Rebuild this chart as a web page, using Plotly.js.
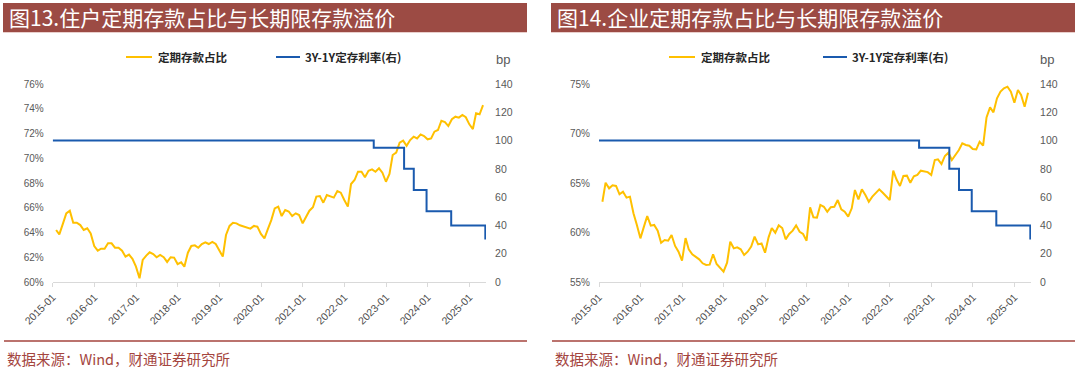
<!DOCTYPE html>
<html>
<head>
<meta charset="utf-8">
<script src="https://cdn.plot.ly/plotly-3.0.1.min.js"></script>
<style>
  html, body { margin: 0; padding: 0; background: #ffffff; }
  #chart { width: 1080px; height: 370px; }
</style>
</head>
<body>
<div id="chart"></div>
<script>
// ---------------- DATA ----------------
const startYear = 2015;            // monthly series start: 2015-01 (month-end observations)
const yearTickLabels = ['2015-01','2016-01','2017-01','2018-01','2019-01','2020-01','2021-01','2022-01','2023-01','2024-01','2025-01'];

// 住户定期存款占比 (%)
const householdTermShare = [
  64.20, 63.85, 64.70, 65.55, 65.76, 64.79, 64.79, 64.60, 64.20, 64.34, 63.93, 62.90,
  62.53, 62.69, 62.69, 63.13, 63.13, 62.77, 62.77, 62.53, 62.05, 62.21, 61.88, 61.24,
  60.30, 61.78, 62.13, 62.40, 62.26, 62.00, 62.18, 62.00, 61.62, 62.00, 61.97, 61.45,
  61.59, 61.24, 62.37, 62.91, 62.96, 62.77, 63.07, 63.21, 63.07, 63.24, 63.07, 62.59,
  62.05, 63.80, 64.53, 64.79, 64.74, 64.58, 64.47, 64.40, 64.31, 64.53, 64.47, 63.88,
  63.53, 64.25, 65.00, 65.95, 66.09, 65.33, 65.82, 65.70, 65.33, 65.55, 65.41, 64.74,
  65.33, 65.76, 66.04, 66.90, 66.95, 66.41, 67.03, 66.95, 66.82, 67.35, 67.22, 66.63,
  66.09, 67.92, 68.24, 68.91, 68.91, 68.46, 68.99, 69.10, 68.91, 69.19, 68.83, 68.10,
  68.73, 70.26, 70.45, 71.26, 71.42, 71.00, 71.47, 71.74, 71.60, 71.93, 71.80, 71.53,
  71.60, 72.15, 72.28, 73.03, 72.93, 72.60, 73.15, 73.36, 73.28, 73.50, 73.31, 72.74,
  72.36, 73.63, 73.55, 74.30
];

// 企业定期存款占比 (%)
const enterpriseTermShare = [
  63.11, 65.03, 64.46, 64.77, 64.70, 63.86, 64.12, 63.52, 63.62, 61.94, 60.76, 59.41,
  60.59, 61.67, 60.69, 60.76, 60.19, 58.97, 59.24, 59.17, 59.75, 58.64, 58.06, 57.15,
  59.44, 58.30, 57.80, 57.56, 57.29, 56.89, 56.72, 56.75, 57.80, 56.82, 56.38, 56.04,
  56.95, 59.07, 58.40, 58.50, 58.30, 57.73, 58.06, 58.57, 59.58, 58.80, 58.90, 57.96,
  59.51, 60.45, 59.98, 60.72, 60.45, 59.31, 59.85, 60.19, 60.72, 60.08, 59.85, 59.17,
  62.54, 61.53, 61.50, 62.78, 62.60, 62.10, 62.56, 62.60, 63.28, 62.34, 62.10, 61.60,
  62.44, 64.29, 63.35, 64.36, 63.79, 63.11, 63.62, 63.96, 64.36, 64.02, 63.62, 63.28,
  66.24, 65.37, 64.70, 65.71, 65.74, 65.03, 65.67, 65.81, 66.24, 66.14, 66.10, 65.81,
  67.32, 67.39, 66.92, 67.73, 68.06, 67.32, 67.83, 68.33, 69.01, 68.84, 68.77, 68.43,
  68.40, 69.17, 68.77, 71.63, 72.64, 72.14, 73.56, 74.23, 74.56, 74.73, 74.23, 73.11,
  74.39, 73.89, 72.71, 74.12
];

// 3Y-1Y定存利率 (bp), step changes
const spreadDates = ['2015-01-01','2022-09-15','2023-06-08','2023-09-01','2023-12-22','2024-07-25','2025-05-20'];
const spreadBp    = [100, 95, 80, 65, 50, 40, 30];

// ---------------- HELPERS ----------------
function monthEndDates(n) {
  const out = [];
  for (let i = 0; i < n; i++) {
    const d = new Date(Date.UTC(startYear, i + 1, 0));
    out.push(d.toISOString().slice(0, 10));
  }
  return out;
}
const yearTickVals = yearTickLabels.map(s => s + '-01');

const W = 1080, H = 370;
const px = x => x / W;
const py = y => 1 - y / H;

const YELLOW = '#FFC000';
const BLUE = '#1A5AAE';
const TICKC = '#595959';
const AXC = '#D9D9D9';
const BANNER = '#9C4B44';
const SRC = '#A4453E';
const CJK = '"Noto Sans CJK SC", "Noto Sans", sans-serif';
const TICKF = '"Liberation Sans", Arial, sans-serif';

const xRange = ['2015-01-01', '2025-05-26'];
const plotTop = 84, plotBot = 282;
const yDom = [py(plotBot), py(plotTop)];

function xAxisDef(x0, x1, anchor) {
  return {
    domain: [px(x0), px(x1)], anchor: anchor, type: 'date', range: xRange,
    tickmode: 'array', tickvals: yearTickVals, ticktext: yearTickLabels, tickangle: -45,
    showline: true, linecolor: AXC, linewidth: 1, ticks: 'outside', ticklen: 4, tickcolor: AXC,
    showgrid: false, zeroline: false, fixedrange: true,
    tickfont: { family: TICKF, size: 10.5, color: '#4D4D4D' }
  };
}
function yAxisDef(range, dtick, anchor, suffix) {
  return {
    domain: yDom, anchor: anchor, range: range, tickmode: 'linear', tick0: range[0], dtick: dtick,
    ticksuffix: suffix || '', showgrid: false, zeroline: false, showline: false,
    ticks: 'outside', ticklen: 6, tickcolor: 'rgba(0,0,0,0)',
    tickfont: { family: TICKF, size: 10, color: TICKC }, fixedrange: true
  };
}
function y2AxisDef(overlay, anchor) {
  return {
    overlaying: overlay, side: 'right', anchor: anchor, range: [0, 140], tickmode: 'linear', tick0: 0, dtick: 20,
    showgrid: false, zeroline: false, showline: false,
    ticks: 'outside', ticklen: 6, tickcolor: 'rgba(0,0,0,0)',
    tickfont: { family: TICKF, size: 10.5, color: TICKC }, fixedrange: true
  };
}

const months = monthEndDates(householdTermShare.length);

const traces = [
  { x: months, y: householdTermShare, xaxis: 'x', yaxis: 'y', type: 'scatter', mode: 'lines',
    name: '定期存款占比', line: { color: YELLOW, width: 2 }, showlegend: false },
  { x: spreadDates, y: spreadBp, xaxis: 'x', yaxis: 'y2', type: 'scatter', mode: 'lines',
    name: '3Y-1Y定存利率(右)', line: { color: BLUE, width: 2, shape: 'hv' }, showlegend: false },
  { x: months, y: enterpriseTermShare, xaxis: 'x2', yaxis: 'y3', type: 'scatter', mode: 'lines',
    name: '定期存款占比', line: { color: YELLOW, width: 2 }, showlegend: false },
  { x: spreadDates, y: spreadBp, xaxis: 'x2', yaxis: 'y4', type: 'scatter', mode: 'lines',
    name: '3Y-1Y定存利率(右)', line: { color: BLUE, width: 2, shape: 'hv' }, showlegend: false }
];

function panelDecor(offset, title, legYellowX, legBlueX, bpX) {
  const shapes = [
    { type: 'rect', xref: 'paper', yref: 'paper', x0: px(3 + offset), x1: px(527 + offset), y0: py(32), y1: py(3),
      fillcolor: BANNER, line: { width: 0 }, layer: 'below' },
    { type: 'line', xref: 'paper', yref: 'paper', x0: px(3 + offset), x1: px(527 + offset), y0: py(32.5), y1: py(32.5),
      line: { color: '#E9CFCC', width: 1 } },
    { type: 'line', xref: 'paper', yref: 'paper', x0: px(4 + offset), x1: px(527 + offset), y0: py(341), y1: py(341),
      line: { color: SRC, width: 1.5 } },
    { type: 'line', xref: 'paper', yref: 'paper', x0: px(legYellowX), x1: px(legYellowX + 26), y0: py(57), y1: py(57),
      line: { color: YELLOW, width: 2 } },
    { type: 'line', xref: 'paper', yref: 'paper', x0: px(legBlueX), x1: px(legBlueX + 24), y0: py(57), y1: py(57),
      line: { color: BLUE, width: 2 } }
  ];
  const annotations = [
    { xref: 'paper', yref: 'paper', x: px(7 + offset), y: py(17.5), xanchor: 'left', yanchor: 'middle',
      text: title, showarrow: false, font: { family: CJK, size: 21, color: '#FFFFFF' } },
    { xref: 'paper', yref: 'paper', x: px(legYellowX + 30), y: py(57), xanchor: 'left', yanchor: 'middle',
      text: '<b>定期存款占比</b>', showarrow: false, font: { family: CJK, size: 11.5, color: '#262626' } },
    { xref: 'paper', yref: 'paper', x: px(legBlueX + 27), y: py(57), xanchor: 'left', yanchor: 'middle',
      text: '<b>3Y-1Y定存利率(右)</b>', showarrow: false, font: { family: CJK, size: 11.5, color: '#262626' } },
    { xref: 'paper', yref: 'paper', x: px(bpX), y: py(59), xanchor: 'left', yanchor: 'middle',
      text: 'bp', showarrow: false, font: { family: TICKF, size: 13, color: TICKC } },
    { xref: 'paper', yref: 'paper', x: px(5 + offset), y: py(358), xanchor: 'left', yanchor: 'middle',
      text: '数据来源：Wind，财通证券研究所', showarrow: false, font: { family: CJK, size: 14.5, color: SRC } }
  ];
  return { shapes, annotations };
}

const left = panelDecor(0, '图13.住户定期存款占比与长期限存款溢价', 126, 276, 494);
const right = panelDecor(548, '图14.企业定期存款占比与长期限存款溢价', 669, 823, 1038);

const layout = {
  width: W, height: H,
  margin: { l: 0, r: 0, t: 0, b: 0, pad: 0 },
  paper_bgcolor: '#FFFFFF', plot_bgcolor: '#FFFFFF',
  showlegend: false,
  xaxis: xAxisDef(52.7, 486, 'y'),
  yaxis: yAxisDef([60, 76], 2, 'x', '%'),
  yaxis2: y2AxisDef('y', 'x'),
  xaxis2: xAxisDef(599, 1031, 'y3'),
  yaxis3: yAxisDef([55, 75], 5, 'x2', '%'),
  yaxis4: y2AxisDef('y3', 'x2'),
  shapes: left.shapes.concat(right.shapes),
  annotations: left.annotations.concat(right.annotations)
};

Plotly.newPlot('chart', traces, layout, { displayModeBar: false, staticPlot: true });
</script>
</body>
</html>
